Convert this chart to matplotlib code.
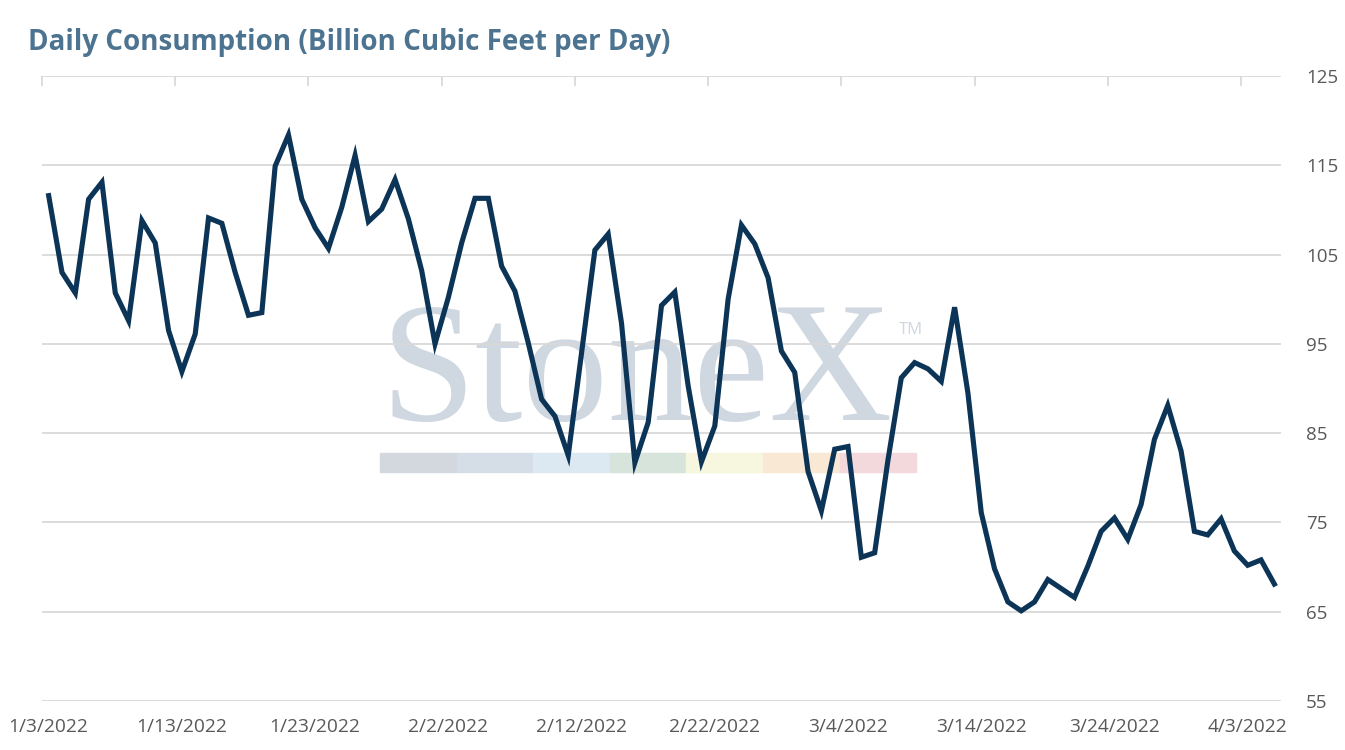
import numpy as np
import pandas as pd
import matplotlib
matplotlib.use("Agg")
import matplotlib.pyplot as plt
from matplotlib.patches import Rectangle

plt.rcParams["font.family"] = ["Open Sans", "DejaVu Sans"]

# daily consumption, bcf/d, 1/3/2022 .. 4/5/2022
dates = pd.date_range("2022-01-03", periods=93, freq="D")
consumption = [
    111.6, 103.0, 100.7, 111.2, 113.1, 100.7, 97.6, 108.8, 106.3, 96.5,
    91.9, 96.1, 109.1, 108.5, 103.0, 98.2, 98.5, 114.9, 118.4, 111.2,
    108.0, 105.7, 110.3, 116.1, 108.7, 110.1, 113.4, 109.0, 103.2, 95.0,
    100.2, 106.3, 111.3, 111.3, 103.7, 100.9, 95.1, 88.8, 86.9, 82.5,
    94.0, 105.5, 107.3, 97.3, 81.7, 86.2, 99.3, 100.8, 90.3, 81.8,
    85.8, 100.0, 108.3, 106.2, 102.4, 94.2, 91.8, 80.7, 76.3, 83.2,
    83.5, 71.1, 71.6, 82.0, 91.2, 92.9, 92.2, 90.8, 99.1, 89.5,
    76.1, 69.8, 66.1, 65.1, 66.1, 68.6, 67.6, 66.6, 70.1, 74.0,
    75.5, 73.1, 77.0, 84.3, 88.1, 83.0, 74.0, 73.6, 75.4, 71.8,
    70.2, 70.8, 68.1,
]
tick_labels = ["1/3/2022", "1/13/2022", "1/23/2022", "2/2/2022", "2/12/2022",
               "2/22/2022", "3/4/2022", "3/14/2022", "3/24/2022", "4/3/2022"]
y_ticks = [55, 65, 75, 85, 95, 105, 115, 125]

grid_col = "#d9d9d9"
text_col = "#595959"
line_col = "#0b3457"

fig = plt.figure(figsize=(13.45, 7.5), dpi=100)
ax = fig.add_axes([42 / 1345, 1 - 701 / 750, (1281 - 42) / 1345, (701 - 76) / 750])
ax.set_zorder(2)

# watermark (StoneX logo) behind the chart
fig.text(381 / 1345, 1 - 420 / 750, "StoneX", fontsize=123, family="Liberation Serif",
         color="#cfd7e0", ha="left", va="baseline", zorder=0)
fig.text(899 / 1345, 1 - 334 / 750, "TM", fontsize=12, color="#cfd7e0", ha="left", va="baseline",
         zorder=0)
band_cols = ["#d3d8df", "#d5dde7", "#dde9f2", "#d7e4db", "#f7f6de", "#f9e8d3", "#f3d9dc"]
for k, c in enumerate(band_cols):
    fig.patches.append(Rectangle(((380 + k * 76.6) / 1345, 1 - 472 / 750), 76.6 / 1345, 19 / 750,
                                 transform=fig.transFigure, color=c, zorder=0))

ax.patch.set_alpha(0)
ax.plot(dates, consumption, color=line_col, lw=3.7, solid_joinstyle="miter", zorder=3)

half = pd.Timedelta(hours=12)
ax.set_xlim(dates[0] - half, dates[-1] + half)
ax.set_ylim(55, 125)
ax.set_yticks(y_ticks)
ax.yaxis.tick_right()
ax.grid(axis="y", color=grid_col, lw=1.3)
ax.set_axisbelow(True)

ax.set_xticks(dates[::10])
ax.set_xticklabels(tick_labels)
ax.set_xticks(dates[::10] - half, minor=True)
ax.tick_params(axis="x", which="major", length=0, pad=12, labelsize=13.8, labelcolor=text_col)
ax.tick_params(axis="x", which="minor", bottom=False, top=True, direction="in",
               length=7, color=grid_col, width=1.3)
ax.tick_params(axis="y", length=0, pad=18, labelsize=13.5, labelcolor=text_col)
for s in ax.spines.values():
    s.set_visible(False)

fig.text(28 / 1345, 1 - 50 / 750, "Daily Consumption (Billion Cubic Feet per Day)",
         fontsize=20, fontweight="bold", color="#4c7390", ha="left", va="baseline")

fig.savefig("out.png", dpi=100)
